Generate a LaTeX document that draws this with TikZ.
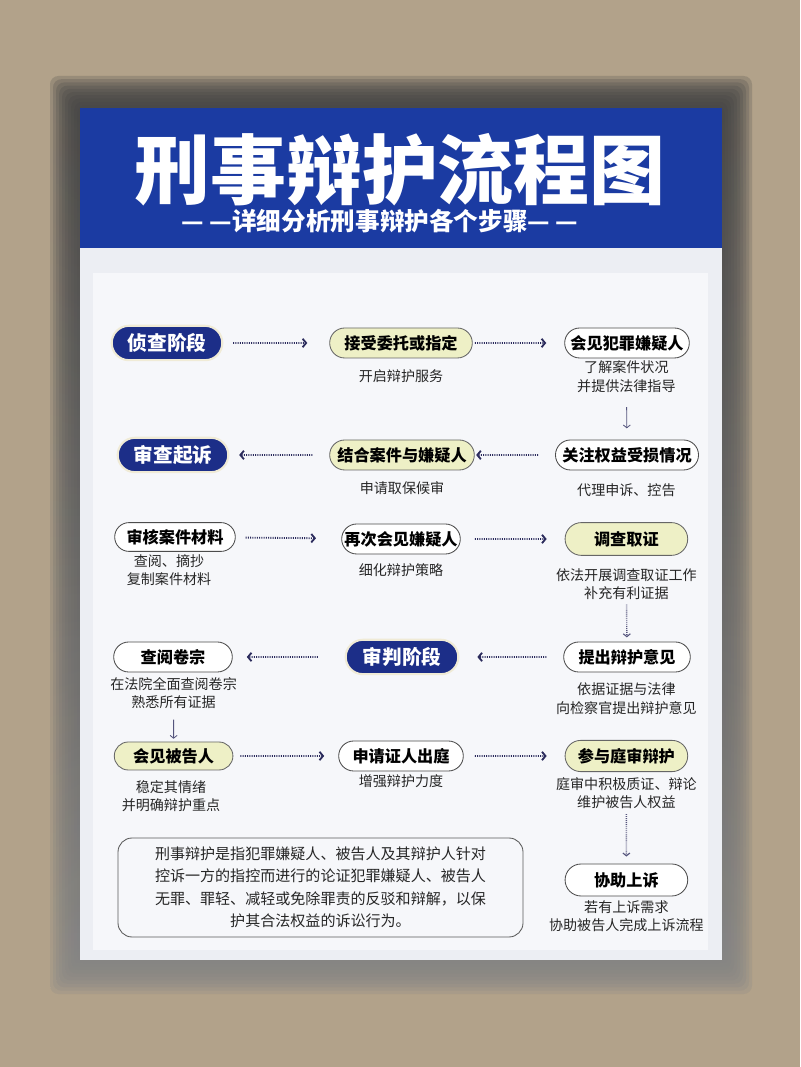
\documentclass[tikz,border=0pt]{standalone}
\usepackage{fontspec}
\setmainfont{Noto Sans CJK SC}
\usepackage{xcolor}
\usetikzlibrary{shapes,positioning,arrows.meta}
\definecolor{tan}{HTML}{B2A28A}
\definecolor{shade}{HTML}{2A2018}
\definecolor{headblue}{HTML}{1B3BA2}
\definecolor{navy}{HTML}{1C2E88}
\definecolor{cream}{HTML}{F0EBD6}
\definecolor{paleyel}{HTML}{EEF0C6}
\definecolor{cardbg}{HTML}{ECEEF3}
\definecolor{panelbg}{HTML}{F6F7FA}
\definecolor{inkline}{HTML}{2B2B5C}
\tikzset{stage/.style={rounded rectangle,fill=navy,draw=cream,line width=1.5pt,text=white,minimum height=0.86cm,minimum width=3cm,font=\bfseries\fontsize{14}{14}\selectfont}}
\tikzset{keystep/.style={rounded rectangle,fill=paleyel,draw=gray!80!black,line width=0.6pt,minimum height=0.75cm,font=\bfseries\fontsize{11.5}{11.5}\selectfont}}
\tikzset{plainstep/.style={rounded rectangle,fill=white,draw=gray!60!black,line width=0.6pt,minimum height=0.75cm,font=\bfseries\fontsize{11.5}{11.5}\selectfont}}
\tikzset{memo/.style={align=center,font=\fontsize{10}{13}\selectfont,text=black!85}}
\tikzset{flow/.style={inkline,line width=1.3pt,dash pattern=on 0.7pt off 0.9pt,-{Straight Barb[length=2.5pt,width=6pt,line width=1.3pt]}}}
\tikzset{drop/.style={inkline!80,line width=0.6pt,-{Straight Barb[length=2pt,width=5pt]}}}
\tikzset{dropdot/.style={inkline!80,line width=1pt,dash pattern=on 0.6pt off 0.8pt,-{Straight Barb[length=2pt,width=5pt,line width=0.8pt]}}}

\begin{document}
\begin{tikzpicture}
    \useasboundingbox (0,0) rectangle (20,26.675);
    \fill[tan] (0,0) rectangle (20,26.675);
    % card with its shadow
    \foreach \i in {1,...,10}
        \fill[shade,opacity=0.12,rounded corners=6pt] ({2.0-0.075*\i},{2.675-0.085*\i}) rectangle ({18.05+0.075*\i},{23.975+0.08*\i});
    \fill[cardbg] (2.0,2.675) rectangle (18.05,23.975);
    \fill[headblue] (2.0,20.475) rectangle (18.05,23.975);
    \fill[panelbg] (2.325,2.925) rectangle (17.7,19.85);

    \node[text=white,font=\bfseries\fontsize{54}{54}\selectfont] (title) at (10,22.42) {刑事辩护流程图};
    \node[text=white,font=\bfseries\fontsize{17.5}{17.5}\selectfont] (subtitle) at (9.5,21.15) {— —详细分析刑事辩护各个步骤— —};

    % row 1
    \node[stage] (zhencha) at (4.175,18.1) {侦查阶段};
    \node[keystep,minimum width=3.8cm] (jieshou) at (10.025,18.1) {接受委托或指定};
    \node[plainstep,minimum width=3.35cm] (huijian) at (15.675,18.1) {会见犯罪嫌疑人};
    \node[memo] (jieshou-t) at (10.025,17.275) {开启辩护服务};
    \node[memo] (huijian-t) at (15.66,17.26) {了解案件状况\\并提供法律指导};

    % row 2
    \node[plainstep,minimum width=3.4cm] (guanzhu) at (15.675,15.3) {关注权益受损情况};
    \node[keystep,minimum width=3.85cm] (jiehe) at (10.05,15.3) {结合案件与嫌疑人};
    \node[stage] (shencha) at (4.325,15.3) {审查起诉};
    \node[memo] (jiehe-t) at (10.05,14.475) {申请取保候审};
    \node[memo] (guanzhu-t) at (15.66,14.425) {代理申诉、控告};

    % row 3
    \node[plainstep,minimum width=3.25cm,minimum height=0.72cm] (shenhe) at (4.375,13.25) {审核案件材料};
    \node[plainstep,minimum width=3.2cm] (zaici) at (10.025,13.2) {再次会见嫌疑人};
    \node[keystep,minimum width=3.3cm,minimum height=0.82cm] (diaocha) at (15.66,13.2) {调查取证};
    \node[memo] (shenhe-t) at (4.225,12.42) {查阅、摘抄\\复制案件材料};
    \node[memo] (zaici-t) at (10.025,12.425) {细化辩护策略};
    \node[memo] (diaocha-t) at (15.66,12.075) {依法开展调查取证工作\\补充有利证据};

    % row 4
    \node[plainstep,minimum width=3.4cm] (tichu) at (15.675,10.25) {提出辩护意见};
    \node[stage,minimum width=3.05cm] (shenpan) at (10.05,10.25) {审判阶段};
    \node[plainstep,minimum width=3.2cm] (chayue) at (4.325,10.25) {查阅卷宗};
    \node[memo] (tichu-t) at (15.66,9.21) {依据证据与法律\\向检察官提出辩护意见};
    \node[memo] (chayue-t) at (4.34,9.34) {在法院全面查阅卷宗\\熟悉所有证据};

    % row 5
    \node[keystep,minimum width=3.2cm,minimum height=0.7cm] (beigao) at (4.34,7.775) {会见被告人};
    \node[plainstep,minimum width=3.35cm] (zhengren) at (10.025,7.775) {申请证人出庭};
    \node[keystep,minimum width=3.3cm,minimum height=0.78cm] (tingshen) at (15.66,7.775) {参与庭审辩护};
    \node[memo] (beigao-t) at (4.275,6.775) {稳定其情绪\\并明确辩护重点};
    \node[memo] (zhengren-t) at (10.025,7.15) {增强辩护力度};
    \node[memo] (tingshen-t) at (15.66,6.84) {庭审中积极质证、辩论\\维护被告人权益};

    % row 6
    \node[plainstep,minimum width=3.3cm,minimum height=0.8cm] (shangsu) at (15.66,4.675) {协助上诉};
    \node[memo] (shangsu-t) at (15.66,3.775) {若有上诉需求\\协助被告人完成上诉流程};
    \node[draw=gray!70!black,line width=0.6pt,rounded corners=10pt,minimum width=10.125cm,minimum height=2.475cm,align=center,font=\fontsize{10.7}{16}\selectfont,text=black!85] (shuoming) at (8.0125,4.4875)
        {刑事辩护是指犯罪嫌疑人、被告人及其辩护人针对\\控诉一方的指控而进行的论证犯罪嫌疑人、被告人\\无罪、罪轻、减轻或免除罪责的反驳和辩解，以保\\护其合法权益的诉讼行为。};

    % connectors
    \draw[flow,shorten <=7pt,shorten >=15.6pt] (zhencha) -- (jieshou);
    \draw[flow,shorten <=1.5pt,shorten >=12.8pt] (jieshou) -- (huijian);
    \draw[drop,shorten <=7pt,shorten >=8pt] (huijian-t) -- (guanzhu);
    \draw[flow,shorten <=12pt,shorten >=1pt] (guanzhu) -- (jiehe);
    \draw[flow,shorten <=12pt,shorten >=7pt] (jiehe) -- (shencha);
    \draw[flow,shorten <=7pt,shorten >=18pt] (shenhe) -- (zaici);
    \draw[flow,shorten <=10pt,shorten >=12.8pt] (zaici) -- (diaocha);
    \draw[dropdot,shorten >=3pt] (diaocha-t) -- (tichu);
    \draw[flow,shorten <=12pt,shorten >=12.8pt] (tichu) -- (shenpan);
    \draw[flow,shorten <=19pt,shorten >=10pt] (shenpan) -- (chayue);
    \draw[drop,shorten <=4pt,shorten >=2pt] (chayue-t) -- (beigao);
    \draw[flow,shorten <=5pt,shorten >=10pt] (beigao) -- (zhengren);
    \draw[flow,shorten <=8pt,shorten >=12.8pt] (zhengren) -- (tingshen);
    \draw[dropdot,shorten >=5pt] (tingshen-t) -- (shangsu);
\end{tikzpicture}
\end{document}
